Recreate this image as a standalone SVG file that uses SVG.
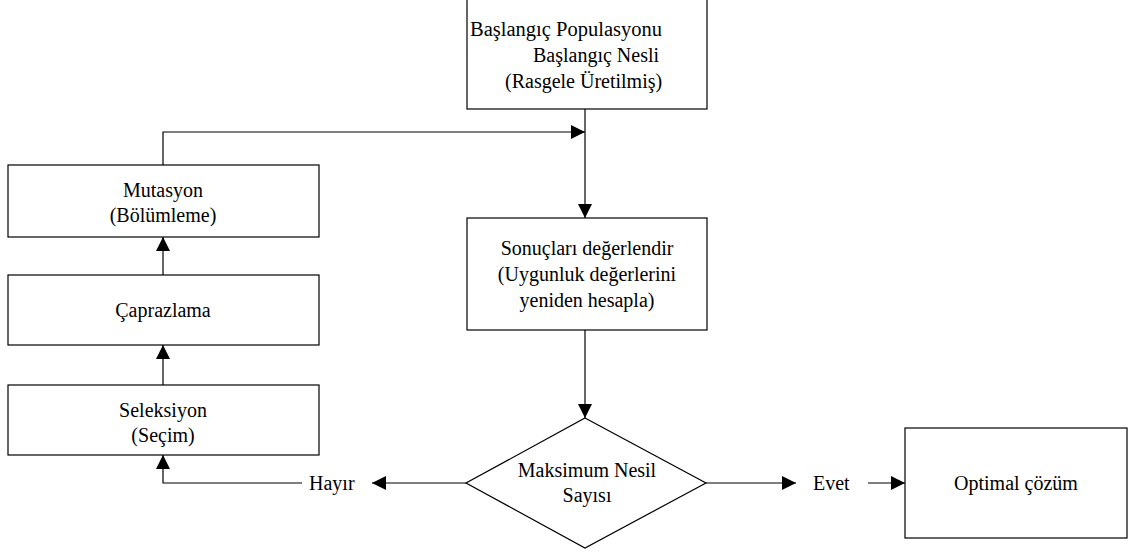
<svg xmlns="http://www.w3.org/2000/svg" width="1130" height="555" viewBox="0 0 1130 555">
  <style>
    .box { fill: #ffffff; stroke: #000000; stroke-width: 1.2; }
    .line { fill: none; stroke: #000000; stroke-width: 1.2; }
    text { font-family: "Liberation Serif", "Times New Roman", serif; font-size: 20px; fill: #000000; }
    .c { text-anchor: middle; }
  </style>
  <defs>
    <marker id="arrow" viewBox="0 0 14 14" refX="14" refY="7" markerWidth="14" markerHeight="14" markerUnits="userSpaceOnUse" orient="auto">
      <path d="M0,0 L14,7 L0,14 Z" fill="#000000"/>
    </marker>
  </defs>
  <rect width="1130" height="555" fill="#ffffff"/>

  <g id="connectors">
    <!-- start -> evaluate -->
    <line class="line" x1="585" y1="109" x2="585" y2="218" marker-end="url(#arrow)"/>
    <!-- mutation loop back to main column -->
    <polyline class="line" points="163,165 163,132 585,132" marker-end="url(#arrow)"/>
    <!-- evaluate -> decision -->
    <line class="line" x1="585" y1="330" x2="585" y2="418" marker-end="url(#arrow)"/>
    <!-- decision -> Hayır -->
    <line class="line" x1="466" y1="483" x2="372" y2="483" marker-end="url(#arrow)"/>
    <!-- Hayır -> selection -->
    <polyline class="line" points="302,483 163,483 163,455" marker-end="url(#arrow)"/>
    <!-- selection -> crossover -->
    <line class="line" x1="163" y1="385" x2="163" y2="345" marker-end="url(#arrow)"/>
    <!-- crossover -> mutation -->
    <line class="line" x1="163" y1="275" x2="163" y2="237" marker-end="url(#arrow)"/>
    <!-- decision -> Evet -->
    <line class="line" x1="706" y1="483" x2="796" y2="483" marker-end="url(#arrow)"/>
    <!-- Evet -> optimal -->
    <line class="line" x1="868" y1="483" x2="905" y2="483" marker-end="url(#arrow)"/>
  </g>

  <g id="start">
    <rect class="box" x="467" y="-1" width="240" height="110"/>
    <text x="470" y="36" textLength="192" lengthAdjust="spacingAndGlyphs">Başlangıç Populasyonu</text>
    <text x="533" y="62">Başlangıç Nesli</text>
    <text x="505" y="88">(Rasgele Üretilmiş)</text>
  </g>

  <g id="mutation">
    <rect class="box" x="8" y="165" width="311" height="72"/>
    <text class="c" x="163" y="197">Mutasyon</text>
    <text class="c" x="163" y="222">(Bölümleme)</text>
  </g>

  <g id="crossover">
    <rect class="box" x="8" y="275" width="311" height="70"/>
    <text class="c" x="163" y="317">Çaprazlama</text>
  </g>

  <g id="selection">
    <rect class="box" x="8" y="385" width="311" height="70"/>
    <text class="c" x="163" y="417">Seleksiyon</text>
    <text class="c" x="163" y="442">(Seçim)</text>
  </g>

  <g id="evaluate">
    <rect class="box" x="467" y="218" width="240" height="112"/>
    <text class="c" x="587" y="255">Sonuçları değerlendir</text>
    <text class="c" x="587" y="281">(Uygunluk değerlerini</text>
    <text class="c" x="587" y="307">yeniden hesapla)</text>
  </g>

  <g id="decision">
    <polygon class="box" points="585,418 706,483 585,548 466,483"/>
    <text class="c" x="587" y="477">Maksimum Nesil</text>
    <text class="c" x="587" y="502">Sayısı</text>
  </g>

  <g id="label-no">
    <text x="309" y="490">Hayır</text>
  </g>

  <g id="label-yes">
    <text x="813" y="490">Evet</text>
  </g>

  <g id="optimal">
    <rect class="box" x="905" y="428" width="222" height="110"/>
    <text class="c" x="1016" y="490">Optimal çözüm</text>
  </g>
</svg>
